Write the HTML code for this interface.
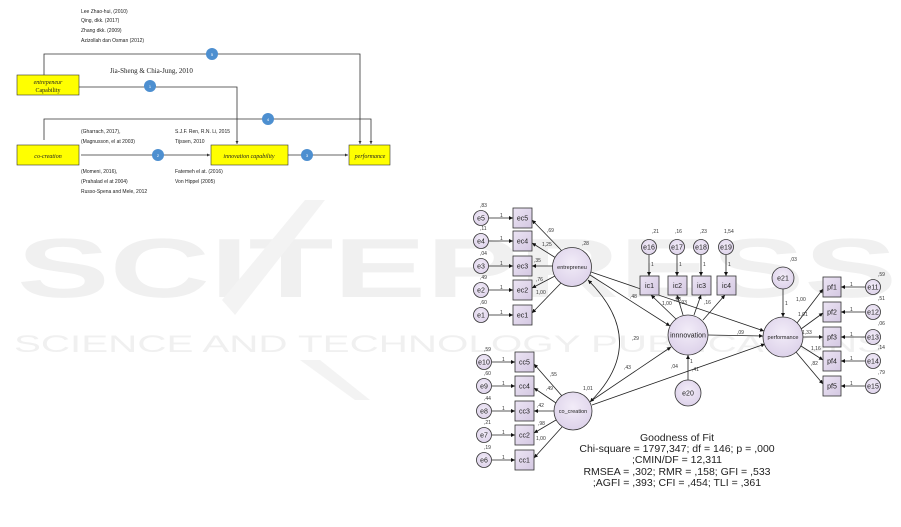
<!DOCTYPE html>
<html><head><meta charset="utf-8"><style>
html,body{margin:0;padding:0;background:#fff;}
svg{display:block;}
text{font-family:"Liberation Sans",sans-serif;}
.s{font-family:"Liberation Serif",serif;fill:#222;}
</style></head><body>
<svg width="901" height="527" viewBox="0 0 901 527" xmlns="http://www.w3.org/2000/svg">
<defs>
<marker id="a" viewBox="0 0 10 10" refX="10" refY="5" markerWidth="5" markerHeight="5" orient="auto-start-reverse"><path d="M0,0 L10,5 L0,10 z" fill="#111"/></marker>
<marker id="b" viewBox="0 0 10 10" refX="10" refY="5" markerWidth="4" markerHeight="4" orient="auto-start-reverse"><path d="M0,0 L10,5 L0,10 z" fill="#333"/></marker>
<radialGradient id="g" cx="50%" cy="40%" r="60%"><stop offset="0" stop-color="#f2ecf8"/><stop offset="1" stop-color="#ddd2ea"/></radialGradient>
<linearGradient id="bx" x1="0" y1="0" x2="1" y2="1"><stop offset="0" stop-color="#ece4f4"/><stop offset="1" stop-color="#d4c8e2"/></linearGradient>
</defs>
<!-- watermark -->
<text x="17" y="297" font-size="84" font-weight="bold" fill="#f0f0f0" textLength="880" lengthAdjust="spacingAndGlyphs">SCITEPRESS</text>
<text x="14" y="352" font-size="24" fill="#f0f0f0" textLength="870" lengthAdjust="spacingAndGlyphs">SCIENCE AND TECHNOLOGY PUBLICATIONS</text>
<polygon points="305,200 325,200 235,315 222,300" fill="#f3f3f3"/>
<polygon points="300,360 320,360 370,400 355,400" fill="#f3f3f3"/>

<!-- LEFT DIAGRAM -->
<g stroke="#333" stroke-width="0.8" fill="none">
<polyline points="44,75 44,54 360,54 360,144" marker-end="url(#b)"/>
<polyline points="79,87 237,87 237,144" marker-end="url(#b)"/>
<polyline points="44,140 44,119 371,119 371,144" marker-end="url(#b)"/>
<line x1="81" y1="155" x2="210" y2="155" marker-end="url(#b)"/>
<line x1="288" y1="155" x2="348" y2="155" marker-end="url(#b)"/>
</g>
<rect x="17" y="75" width="62" height="20" fill="#ffff00" stroke="#333" stroke-width="0.6"/>
<text class="s" x="48" y="84" font-size="6" text-anchor="middle" font-style="italic">entrepeneur</text>
<text class="s" x="48" y="92" font-size="6" text-anchor="middle">Capability</text>
<rect x="17" y="145" width="62" height="20" fill="#ffff00" stroke="#333" stroke-width="0.6"/>
<text class="s" x="48" y="158" font-size="6" text-anchor="middle" font-style="italic">co-creation</text>
<rect x="211" y="145" width="77" height="20" fill="#ffff00" stroke="#333" stroke-width="0.6"/>
<text class="s" x="249" y="158" font-size="6" text-anchor="middle" font-style="italic">innovation capability</text>
<rect x="349" y="145" width="41" height="20" fill="#ffff00" stroke="#333" stroke-width="0.6"/>
<text class="s" x="370" y="158" font-size="6" text-anchor="middle" font-style="italic">performance</text>
<g fill="#4d8fd0">
<circle cx="212" cy="54" r="6"/><circle cx="150" cy="86" r="6"/><circle cx="268" cy="119" r="6"/><circle cx="158" cy="155" r="6"/><circle cx="307" cy="155" r="6"/>
</g>
<g fill="#fff" font-size="4" text-anchor="middle">
<text x="212" y="56">5</text><text x="150" y="88">1</text><text x="268" y="121">4</text><text x="158" y="157">2</text><text x="307" y="157">3</text>
</g>
<g class="s" font-size="5">
<text x="81" y="13">Lee Zhao-hui, (2010)</text>
<text x="81" y="22">Qing, dkk. (2017)</text>
<text x="81" y="32">Zhang dkk. (2009)</text>
<text x="81" y="42">Azizollah dan Osman (2012)</text>
<text x="81" y="133">(Gharrach, 2017),</text>
<text x="81" y="143">(Magnusson, el at 2003)</text>
<text x="81" y="173">(Momeni, 2016),</text>
<text x="81" y="183">(Prahalad el at 2004)</text>
<text x="81" y="193">Russo-Spena and Mele, 2012</text>
<text x="175" y="133">S.J.F. Ren, R.N. Li, 2015</text>
<text x="175" y="143">Tijssen, 2010</text>
<text x="175" y="173">Fatemeh el at. (2016)</text>
<text x="175" y="183">Von Hippel (2005)</text>
</g>
<text class="s" x="110" y="73" font-size="7">Jia-Sheng &amp; Chia-Jung, 2010</text>

<!-- RIGHT SEM -->
<g stroke="#222" stroke-width="0.8" fill="none" marker-end="url(#a)">
<line x1="489" y1="218" x2="513" y2="218"/><line x1="489" y1="241" x2="513" y2="241"/><line x1="489" y1="266" x2="513" y2="266"/><line x1="489" y1="290" x2="513" y2="290"/><line x1="489" y1="315" x2="513" y2="315"/>
<line x1="562" y1="251" x2="532" y2="220"/><line x1="556" y1="258" x2="532" y2="243"/><line x1="553" y1="266" x2="532" y2="266"/><line x1="555" y1="276" x2="532" y2="288"/><line x1="561" y1="283" x2="532" y2="313"/>
<line x1="492" y1="362" x2="515" y2="362"/><line x1="492" y1="386" x2="515" y2="386"/><line x1="492" y1="411" x2="515" y2="411"/><line x1="492" y1="435" x2="515" y2="435"/><line x1="492" y1="460" x2="515" y2="460"/>
<line x1="562" y1="396" x2="534" y2="364"/><line x1="556" y1="403" x2="534" y2="388"/><line x1="554" y1="411" x2="534" y2="411"/><line x1="556" y1="420" x2="534" y2="433"/><line x1="562" y1="427" x2="534" y2="458"/>
<line x1="649" y1="255" x2="649" y2="276"/><line x1="677" y1="255" x2="677" y2="276"/><line x1="701" y1="255" x2="701" y2="276"/><line x1="726" y1="255" x2="726" y2="276"/>
<line x1="676" y1="319" x2="651" y2="295"/><line x1="683" y1="315" x2="677" y2="295"/><line x1="694" y1="315" x2="701" y2="295"/><line x1="703" y1="320" x2="725" y2="295"/>
<line x1="590" y1="275" x2="670" y2="326"/>
<line x1="591" y1="272" x2="764" y2="331"/>
<line x1="591" y1="401" x2="671" y2="347"/>
<line x1="592" y1="405" x2="765" y2="344"/>
<line x1="708" y1="335" x2="763" y2="336"/>
<line x1="688" y1="380" x2="688" y2="355"/>
<line x1="783" y1="288" x2="783" y2="317"/>
<line x1="797" y1="323" x2="823" y2="289"/><line x1="801" y1="329" x2="823" y2="313"/><line x1="803" y1="337" x2="823" y2="337"/><line x1="801" y1="346" x2="823" y2="360"/><line x1="796" y1="352" x2="823" y2="384"/>
<line x1="865" y1="287" x2="841" y2="287"/><line x1="865" y1="312" x2="841" y2="312"/><line x1="865" y1="337" x2="841" y2="337"/><line x1="865" y1="361" x2="841" y2="361"/><line x1="865" y1="386" x2="841" y2="386"/>
<path d="M588,280 Q650,342 590,402" marker-start="url(#a)"/>
</g>
<g fill="url(#bx)" stroke="#333" stroke-width="0.8">
<rect x="513" y="208" width="19" height="20"/><rect x="513" y="231" width="19" height="20"/><rect x="513" y="256" width="19" height="20"/><rect x="513" y="280" width="19" height="20"/><rect x="513" y="305" width="19" height="20"/>
<rect x="515" y="352" width="19" height="20"/><rect x="515" y="376" width="19" height="20"/><rect x="515" y="401" width="19" height="20"/><rect x="515" y="425" width="19" height="20"/><rect x="515" y="450" width="19" height="20"/>
<rect x="640" y="276" width="19" height="19"/><rect x="668" y="276" width="19" height="19"/><rect x="692" y="276" width="19" height="19"/><rect x="717" y="276" width="19" height="19"/>
<rect x="823" y="277" width="18" height="20"/><rect x="823" y="302" width="18" height="20"/><rect x="823" y="327" width="18" height="20"/><rect x="823" y="351" width="18" height="20"/><rect x="823" y="376" width="18" height="20"/>
</g>
<g fill="url(#g)" stroke="#333" stroke-width="0.8">
<circle cx="481" cy="218" r="7.5"/><circle cx="481" cy="241" r="7.5"/><circle cx="481" cy="266" r="7.5"/><circle cx="481" cy="290" r="7.5"/><circle cx="481" cy="315" r="7.5"/>
<circle cx="484" cy="362" r="7.5"/><circle cx="484" cy="386" r="7.5"/><circle cx="484" cy="411" r="7.5"/><circle cx="484" cy="435" r="7.5"/><circle cx="484" cy="460" r="7.5"/>
<circle cx="649" cy="247" r="7.5"/><circle cx="677" cy="247" r="7.5"/><circle cx="701" cy="247" r="7.5"/><circle cx="726" cy="247" r="7.5"/>
<circle cx="873" cy="287" r="7.5"/><circle cx="873" cy="312" r="7.5"/><circle cx="873" cy="337" r="7.5"/><circle cx="873" cy="361" r="7.5"/><circle cx="873" cy="386" r="7.5"/>
<circle cx="572" cy="267" r="19.5"/><circle cx="573" cy="411" r="19"/>
<circle cx="688" cy="335" r="20"/><circle cx="783" cy="337" r="20"/>
<circle cx="783" cy="278" r="11"/><circle cx="688" cy="393" r="13"/>
</g>
<g font-size="7" fill="#222" text-anchor="middle">
<text x="481" y="220.5">e5</text><text x="481" y="243.5">e4</text><text x="481" y="268.5">e3</text><text x="481" y="292.5">e2</text><text x="481" y="317.5">e1</text>
<text x="484" y="364.5">e10</text><text x="484" y="388.5">e9</text><text x="484" y="413.5">e8</text><text x="484" y="437.5">e7</text><text x="484" y="462.5">e6</text>
<text x="522.5" y="220.5">ec5</text><text x="522.5" y="243.5">ec4</text><text x="522.5" y="268.5">ec3</text><text x="522.5" y="292.5">ec2</text><text x="522.5" y="317.5">ec1</text>
<text x="524.5" y="364.5">cc5</text><text x="524.5" y="388.5">cc4</text><text x="524.5" y="413.5">cc3</text><text x="524.5" y="437.5">cc2</text><text x="524.5" y="462.5">cc1</text>
<text x="649" y="249.5">e16</text><text x="677" y="249.5">e17</text><text x="701" y="249.5">e18</text><text x="726" y="249.5">e19</text>
<text x="649.5" y="288">ic1</text><text x="677.5" y="288">ic2</text><text x="701.5" y="288">ic3</text><text x="726.5" y="288">ic4</text>
<text x="832" y="289.5">pf1</text><text x="832" y="314.5">pf2</text><text x="832" y="339.5">pf3</text><text x="832" y="363.5">pf4</text><text x="832" y="388.5">pf5</text>
<text x="873" y="289.5">e11</text><text x="873" y="314.5">e12</text><text x="873" y="339.5">e13</text><text x="873" y="363.5">e14</text><text x="873" y="388.5">e15</text>
<text x="783" y="280.5">e21</text><text x="688" y="395.5">e20</text>
<text x="688" y="337.5">innnovation</text>
</g>
<g font-size="5.5" fill="#222" text-anchor="middle">
<text x="572" y="269">entrepreneu</text><text x="573" y="413">co_creation</text><text x="783" y="339">performance</text>
</g>
<g font-size="5" fill="#333">
<text x="480" y="207">,83</text><text x="480" y="230">,11</text><text x="480" y="255">,04</text><text x="480" y="279">,49</text><text x="480" y="304">,60</text>
<text x="484" y="351">,59</text><text x="484" y="375">,60</text><text x="484" y="400">,44</text><text x="484" y="424">,21</text><text x="484" y="449">,19</text>
<text x="500" y="217">1</text><text x="500" y="240">1</text><text x="500" y="265">1</text><text x="500" y="289">1</text><text x="500" y="314">1</text>
<text x="502" y="361">1</text><text x="502" y="385">1</text><text x="502" y="410">1</text><text x="502" y="434">1</text><text x="502" y="459">1</text>
<text x="547" y="232">,69</text><text x="542" y="246">1,25</text><text x="534" y="262">,35</text><text x="536" y="281">,76</text><text x="536" y="294">1,00</text>
<text x="582" y="245">,28</text>
<text x="550" y="376">,55</text><text x="546" y="390">,49</text><text x="537" y="407">,42</text><text x="538" y="425">,98</text><text x="536" y="440">1,00</text>
<text x="583" y="390">1,01</text>
<text x="652" y="233">,21</text><text x="675" y="233">,16</text><text x="700" y="233">,23</text><text x="724" y="233">1,54</text>
<text x="651" y="266">1</text><text x="679" y="266">1</text><text x="703" y="266">1</text><text x="728" y="266">1</text>
<text x="630" y="298">,48</text><text x="662" y="305">1,00</text><text x="674" y="301">,98</text><text x="680" y="304">,93</text><text x="704" y="304">,16</text>
<text x="632" y="340">,29</text><text x="624" y="369">,43</text><text x="671" y="368">,04</text><text x="692" y="371">,41</text><text x="690" y="363">1</text>
<text x="737" y="334">,09</text>
<text x="790" y="261">,03</text><text x="785" y="305">1</text>
<text x="796" y="301">1,00</text><text x="798" y="316">1,01</text><text x="802" y="334">1,33</text><text x="811" y="350">1,16</text><text x="811" y="365">,82</text>
<text x="878" y="276">,59</text><text x="878" y="300">,51</text><text x="878" y="325">,06</text><text x="878" y="349">,14</text><text x="878" y="374">,79</text>
<text x="850" y="286">1</text><text x="850" y="311">1</text><text x="850" y="336">1</text><text x="850" y="360">1</text><text x="850" y="385">1</text>
</g>
<g font-size="10.5" fill="#222" text-anchor="middle">
<text x="677" y="441">Goodness of Fit</text>
<text x="677" y="452">Chi-square = 1797,347; df = 146; p = ,000</text>
<text x="677" y="463">;CMIN/DF = 12,311</text>
<text x="677" y="475">RMSEA = ,302; RMR = ,158; GFI = ,533</text>
<text x="677" y="486">;AGFI = ,393; CFI = ,454; TLI = ,361</text>
</g>
</svg>
</body></html>
